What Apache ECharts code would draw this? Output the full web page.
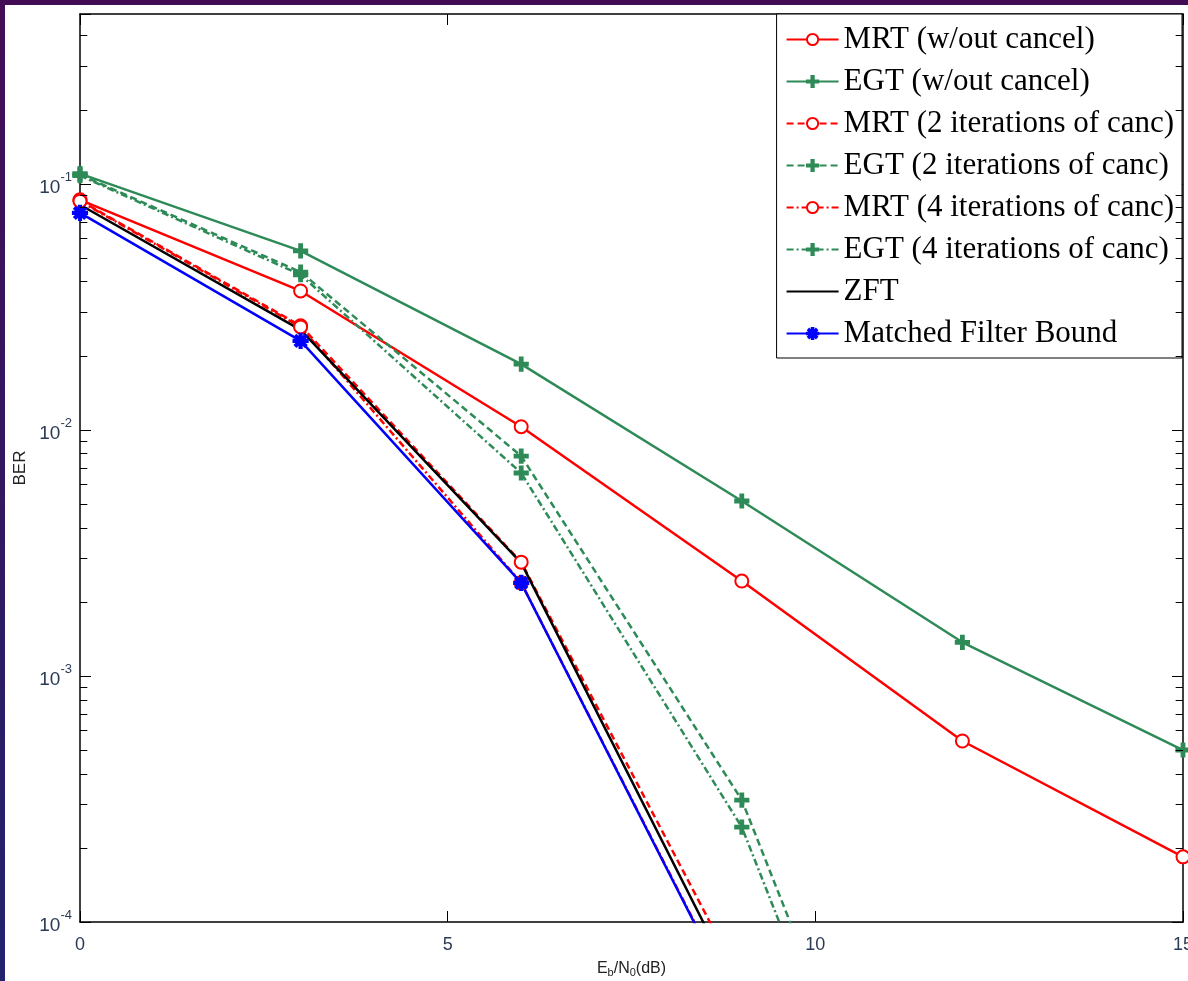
<!DOCTYPE html>
<html>
<head>
<meta charset="utf-8">
<script src="https://cdn.jsdelivr.net/npm/echarts@6/dist/echarts.min.js"></script>
<style>
  html, body { margin: 0; padding: 0; }
  body {
    width: 1188px; height: 981px; overflow: hidden;
    background: linear-gradient(180deg, #430d55 0%, #2e1a63 60%, #23236e 100%);
  }
  #chart { position: absolute; left: 5px; top: 5px; width: 1183px; height: 976px; background: #fff; }
</style>
</head>
<body>
<div id="chart"></div>
<script>
// Eb/N0 (dB)
const snr = [0, 3, 6, 9, 12, 15];

// BER values
const mrtNoCancel = [0.0861, 0.0367, 0.0103, 0.00243, 0.000544, 0.000184];
const egtNoCancel = [0.110, 0.0534, 0.0185, 0.00514, 0.00137, 0.000500];
const mrt2 = [0.0855, 0.0265, 0.0029, 0.0000565];
const egt2 = [0.109, 0.0438, 0.00783, 0.000313, 0.0000017];
const mrt4 = [0.0850, 0.0262, 0.00239, 0.000042];
const egt4 = [0.108, 0.0427, 0.00668, 0.000243, 0.0000013];
const zft = [0.0822, 0.0255, 0.00288, 0.000049];
const mfb = [0.0762, 0.0230, 0.00239, 0.0000415];

const xTicks = [0, 5, 10, 15];
const yMin = 1e-4;
const yMax = 0.49;

const RED = "#ff0000";
const GREEN = "#2e8b57";
const BLUE = "#0000ff";

const plusPath = "path://M4,0H6V4H10V6H6V10H4V6H0V4H4Z";
const starPath =
  "path://M4.3,0H5.7V3.3L8,1L9,2L6.7,4.3H10V5.7H6.7L9,8L8,9L5.7,6.7V10H4.3V6.7L2,9L1,8L3.3,5.7H0V4.3H3.3L1,2L2,1L4.3,3.3Z";

function pairs(ys) {
  return ys.map((v, i) => [snr[i], v]);
}

// minor log ticks (2..9 per decade), drawn as short lines on both y axes
const minorTicks = [];
for (let e = -4; e <= -1; e++) {
  for (let k = 2; k <= 9; k++) {
    const v = k * Math.pow(10, e);
    if (v < yMax) minorTicks.push(v);
  }
}
const tickMarks = [];
minorTicks.forEach((v) => {
  tickMarks.push([{ coord: [0, v] }, { coord: [0.1, v] }]);
  tickMarks.push([{ coord: [14.9, v] }, { coord: [15, v] }]);
});

function lineSeries(name, ys, color, type, symbol, size) {
  return {
    name: name,
    type: "line",
    data: pairs(ys),
    symbol: symbol,
    symbolSize: size,
    showSymbol: symbol !== "none",
    clip: true,
    lineStyle: { color: color, width: 2.5, type: type },
    itemStyle: { color: color, borderColor: color, borderWidth: 2.2 },
    emphasis: { disabled: true },
    z: 3,
  };
}

const chart = echarts.init(document.getElementById("chart"));

const supLabel = function (value) {
  const e = Math.log10(value);
  const r = Math.round(e);
  if (Math.abs(e - r) > 1e-6) return "";
  return "{b|10}{s|" + r + "}";
};

const axisLineStyle = { show: true, onZero: false, lineStyle: { color: "#000", width: 1.5 } };
const axisTickStyle = { inside: true, length: 11, lineStyle: { color: "#000" } };

const option = {
  animation: false,
  grid: { left: 75, right: 5, top: 9, bottom: 59, outerBoundsMode: "none" },
  legend: {
    orient: "vertical",
    right: 6,
    top: 9,
    backgroundColor: "#fff",
    borderColor: "#000",
    borderWidth: 1,
    padding: [10, 8, 9, 9],
    itemWidth: 52,
    itemHeight: 14,
    itemGap: 11,
    textStyle: {
      fontFamily: "Liberation Serif",
      fontSize: 31,
      color: "#000",
      lineHeight: 31,
    },
    data: [
      "MRT (w/out cancel)",
      "EGT (w/out cancel)",
      "MRT (2 iterations of canc)",
      "EGT (2 iterations of canc)",
      "MRT (4 iterations of canc)",
      "EGT (4 iterations of canc)",
      { name: "ZFT", itemStyle: { opacity: 0 } },
      "Matched Filter Bound",
    ],
  },
  xAxis: [
    {
      type: "value",
      min: 0,
      max: 15,
      interval: 5,
      name: "{n|E}{sub|b}{n|/N}{sub|0}{n|(dB)}",
      nameLocation: "middle",
      nameGap: 38,
      nameTextStyle: {
        rich: {
          n: { fontFamily: "Liberation Sans", fontSize: 16, color: "#222" },
          sub: { fontFamily: "Liberation Sans", fontSize: 11, color: "#222", verticalAlign: "bottom", padding: [7, 0, 0, 0] },
        },
      },
      axisLine: axisLineStyle,
      axisTick: axisTickStyle,
      axisLabel: {
        margin: 14,
        fontFamily: "Liberation Sans",
        fontSize: 18,
        color: "#2b3a55",
        formatter: (v) => (xTicks.includes(v) ? String(v) : ""),
      },
      splitLine: { show: false },
    },
    {
      type: "value",
      position: "top",
      min: 0,
      max: 15,
      interval: 5,
      axisLine: axisLineStyle,
      axisTick: axisTickStyle,
      axisLabel: { show: false },
      splitLine: { show: false },
    },
  ],
  yAxis: [
    {
      type: "log",
      logBase: 10,
      min: yMin,
      max: yMax,
      name: "BER",
      nameLocation: "middle",
      nameGap: 45,
      nameTextStyle: { fontFamily: "Liberation Sans", fontSize: 17, color: "#222" },
      axisLine: axisLineStyle,
      axisTick: axisTickStyle,
      axisLabel: {
        margin: 8,
        formatter: supLabel,
        rich: {
          b: { fontFamily: "Liberation Sans", fontSize: 19, color: "#2b3a55", lineHeight: 26, verticalAlign: "bottom" },
          s: { fontFamily: "Liberation Sans", fontSize: 13, color: "#2b3a55", lineHeight: 26, verticalAlign: "top" },
        },
      },
      splitLine: { show: false },
    },
    {
      type: "log",
      logBase: 10,
      min: yMin,
      max: yMax,
      position: "right",
      axisLine: axisLineStyle,
      axisTick: axisTickStyle,
      axisLabel: { show: false },
      splitLine: { show: false },
    },
  ],
  series: [
    lineSeries("MRT (w/out cancel)", mrtNoCancel, RED, "solid", "emptyCircle", 13),
    lineSeries("EGT (w/out cancel)", egtNoCancel, GREEN, "solid", plusPath, 13),
    lineSeries("MRT (2 iterations of canc)", mrt2, RED, [7, 4], "emptyCircle", 13),
    lineSeries("EGT (2 iterations of canc)", egt2, GREEN, [7, 4], plusPath, 13),
    lineSeries("MRT (4 iterations of canc)", mrt4, RED, [7, 3, 2, 3], "emptyCircle", 13),
    lineSeries("EGT (4 iterations of canc)", egt4, GREEN, [7, 3, 2, 3], plusPath, 13),
    lineSeries("ZFT", zft, "#000", "solid", "none", 0),
    lineSeries("Matched Filter Bound", mfb, BLUE, "solid", starPath, 14),
    {
      name: "minor ticks",
      type: "line",
      data: [],
      markLine: {
        silent: true,
        symbol: "none",
        animation: false,
        label: { show: false },
        lineStyle: { color: "#000", width: 1, type: "solid" },
        data: tickMarks,
      },
    },
  ],
};

option && chart.setOption(option);
</script>
</body>
</html>
